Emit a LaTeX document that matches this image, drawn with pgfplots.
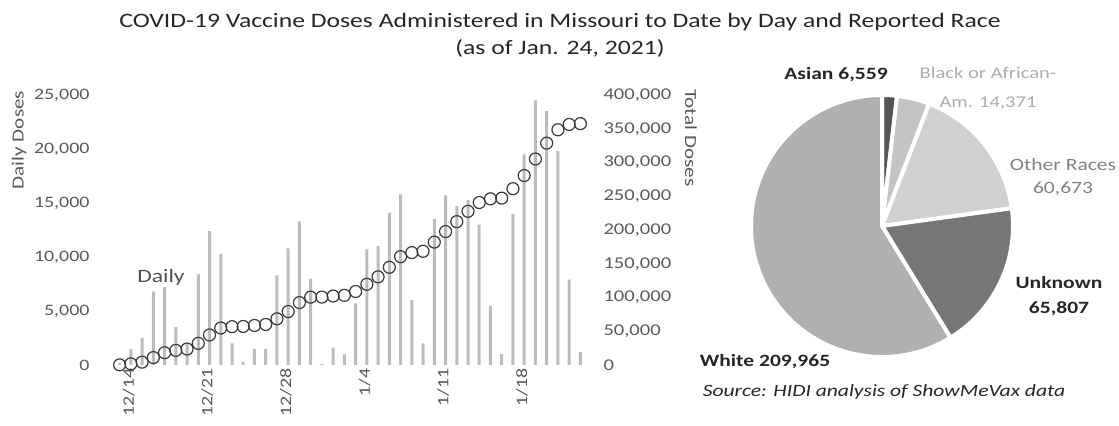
\documentclass[border=0pt]{standalone}
\usepackage{fontspec}
\setmainfont[FakeStretch=1.25]{Carlito}
\usepackage{pgfplots}
\usepackage{pgfplotstable}
\pgfplotsset{compat=1.18}

\definecolor{tickgray}{HTML}{595959}
\definecolor{titlecol}{HTML}{262626}
\definecolor{barcol}{HTML}{BCBCBC}
\definecolor{circcol}{HTML}{3A3A3A}
\definecolor{cAsian}{HTML}{555555}
\definecolor{cBlack}{HTML}{C4C4C4}
\definecolor{cOther}{HTML}{D0D0D0}
\definecolor{cUnknown}{HTML}{767676}
\definecolor{cWhite}{HTML}{B0B0B0}

% day index (0 = 12/14), daily doses, cumulative total doses
\pgfplotstableread{
day daily total
0 200 200
1 1500 1700
2 2500 4200
3 6800 11000
4 7200 18200
5 3500 21700
6 2000 23700
7 8400 32100
8 12400 44500
9 10300 54800
10 2000 56800
11 300 57100
12 1500 58600
13 1500 60100
14 8300 68400
15 10800 79200
16 13300 92500
17 8000 100500
18 100 100600
19 1600 102200
20 1000 103200
21 5700 108900
22 10700 119600
23 11000 130600
24 14100 144700
25 15800 160500
26 6000 166500
27 2000 168500
28 13500 182000
29 15700 197700
30 14700 212400
31 15300 227700
32 13000 240700
33 5500 246200
34 1000 247200
35 14000 261200
36 19500 280700
37 24500 305200
38 23500 328700
39 19800 348500
40 7900 356400
41 1200 357600
}\doses

% pie values
\def\vAsian{6559}
\def\vBlack{14371}
\def\vOther{60673}
\def\vUnknown{65807}
\def\vWhite{209965}
\edef\tot{\fpeval{\vAsian+\vBlack+\vOther+\vUnknown+\vWhite}}
\edef\aA{\fpeval{round(90-360*\vAsian/\tot,3)}}
\edef\aB{\fpeval{round(\aA-360*\vBlack/\tot,3)}}
\edef\aC{\fpeval{round(\aB-360*\vOther/\tot,3)}}
\edef\aD{\fpeval{round(\aC-360*\vUnknown/\tot,3)}}

\begin{document}
\begin{tikzpicture}
\path[use as bounding box] (0,0) rectangle (1119bp,426bp);

% ---- daily bars (left axis)
\begin{axis}[
  at={(114bp,61bp)}, anchor=south west,
  scale only axis, width=472bp, height=270bp,
  xmin=-0.5, xmax=41.5, ymin=0, ymax=25000,
  ytick={0,5000,...,25000},
  xtick={0,7,14,21,28,35},
  xticklabels={12/14,12/21,12/28,1/4,1/11,1/18},
  axis line style={draw=none}, major tick length=0pt,
  scaled y ticks=false,
  /pgf/number format/.cd, fixed, 1000 sep={,}, assume math mode=true, /pgfplots/.cd,
  tick label style={font=\fontsize{16}{19}\selectfont, text=tickgray},
  xticklabel style={rotate=90, anchor=east, yshift=-9bp},
  yticklabel style={anchor=east, xshift=-21bp},
  ybar, bar width=3bp,
]
\addplot[fill=barcol, draw=none] table[x=day,y=daily]{\doses};
\end{axis}

% ---- cumulative total (right axis)
\begin{axis}[
  at={(114bp,61bp)}, anchor=south west,
  scale only axis, width=472bp, height=270bp,
  xmin=-0.5, xmax=41.5, ymin=0, ymax=400000,
  axis y line*=right, axis x line=none,
  ytick={0,50000,...,400000},
  axis line style={draw=none}, major tick length=0pt,
  scaled y ticks=false,
  /pgf/number format/.cd, fixed, 1000 sep={,}, assume math mode=true, /pgfplots/.cd,
  tick label style={font=\fontsize{16.5}{19}\selectfont, text=tickgray},
  yticklabel style={anchor=west, xshift=14bp},
]
\addplot[only marks, mark=o, mark size=6bp, mark options={draw=circcol, line width=1.2bp}]
  table[x=day,y=total]{\doses};
\end{axis}

% ---- pie
\begin{axis}[
  at={(882bp,200bp)}, anchor=center,
  scale only axis, width=262bp, height=262bp,
  xmin=-1, xmax=1, ymin=-1, ymax=1, hide axis,
]
\fill[cAsian, draw=white, line width=4bp] (axis cs:0,0) -- ++(90:131bp)
  arc[start angle=90, end angle=\aA, radius=131bp] -- cycle;
\fill[cBlack, draw=white, line width=4bp] (axis cs:0,0) -- ++(\aA:131bp)
  arc[start angle=\aA, end angle=\aB, radius=131bp] -- cycle;
\fill[cOther, draw=white, line width=4bp] (axis cs:0,0) -- ++(\aB:131bp)
  arc[start angle=\aB, end angle=\aC, radius=131bp] -- cycle;
\fill[cUnknown, draw=white, line width=4bp] (axis cs:0,0) -- ++(\aC:131bp)
  arc[start angle=\aC, end angle=\aD, radius=131bp] -- cycle;
\fill[cWhite, draw=white, line width=4bp] (axis cs:0,0) -- ++(\aD:131bp)
  arc[start angle=\aD, end angle=-270, radius=131bp] -- cycle;
\end{axis}

% ---- texts
\node[text=titlecol, font=\fontsize{20.6}{24}\selectfont] at (560bp,404bp)
  {COVID-19 Vaccine Doses Administered in Missouri to Date by Day and Reported Race};
\node[text=titlecol, font=\fontsize{20.6}{24}\selectfont] at (560bp,378bp)
  {(as of Jan. 24, 2021)};
\node[rotate=90, text=tickgray, font=\fontsize{17}{20}\selectfont] at (19bp,286bp) {Daily Doses};
\node[rotate=-90, text=tickgray, font=\fontsize{17}{20}\selectfont] at (691bp,288bp) {Total Doses};
\node[text=titlecol!80, font=\fontsize{19}{24}\selectfont] at (161bp,149bp) {Daily};

\node[text=titlecol, font=\bfseries\fontsize{17.3}{21}\selectfont] at (836bp,351bp) {Asian 6,559};
\node[text=gray!65, align=center, font=\fontsize{16.5}{29}\selectfont] at (988bp,338bp)
  {Black or African-\\Am. 14,371};
\node[text=gray, align=center, font=\fontsize{17.3}{23}\selectfont] at (1063bp,249bp)
  {Other Races\\60,673};
\node[text=titlecol, align=center, font=\bfseries\fontsize{17.3}{25}\selectfont] at (1059bp,130bp)
  {Unknown\\65,807};
\node[text=titlecol, font=\bfseries\fontsize{17.3}{21}\selectfont] at (765bp,64bp) {White 209,965};
\node[text=titlecol, font=\itshape\fontsize{17.3}{21}\selectfont] at (884bp,34bp)
  {Source: HIDI analysis of ShowMeVax data};
\end{tikzpicture}
\end{document}
